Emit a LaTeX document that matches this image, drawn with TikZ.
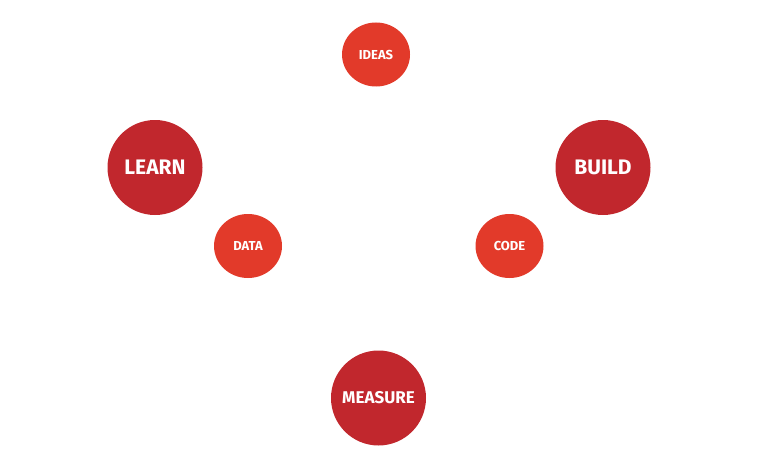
\documentclass[tikz,border=0pt]{standalone}
\usepackage{fontspec}
\setsansfont{Fira Sans}
\usetikzlibrary{shapes.geometric}
\definecolor{bigred}{HTML}{C1272D}
\definecolor{smallred}{HTML}{E23A2A}
\tikzset{
  bigdot/.style={circle, fill=bigred, minimum size=95pt, inner sep=0pt,
    text=white, font=\sffamily\bfseries\fontsize{21}{21}\selectfont},
  smalldot/.style={ellipse, fill=smallred, minimum width=68pt, minimum height=64pt,
    inner sep=0pt, text=white, font=\sffamily\bfseries\fontsize{13}{13}\selectfont}
}
\begin{document}
\begin{tikzpicture}[x=1pt, y=-1pt]
\useasboundingbox (0,0) rectangle (760,460);
%--- Large circles ---
\node[bigdot] (learn) at (155,167.5) {LEARN};
\node[bigdot] (build) at (603,167.5) {BUILD};
\node[bigdot, font=\sffamily\bfseries\fontsize{17}{17}\selectfont] (measure) at (378.5,398) {\raisebox{-3pt}{MEASURE}};
%--- Small circles ---
\node[smalldot] (ideas) at (376,54.5) {IDEAS};
\node[smalldot] (data) at (248,246) {DATA};
\node[smalldot] (code) at (509.5,246) {CODE};
\end{tikzpicture}
\end{document}
